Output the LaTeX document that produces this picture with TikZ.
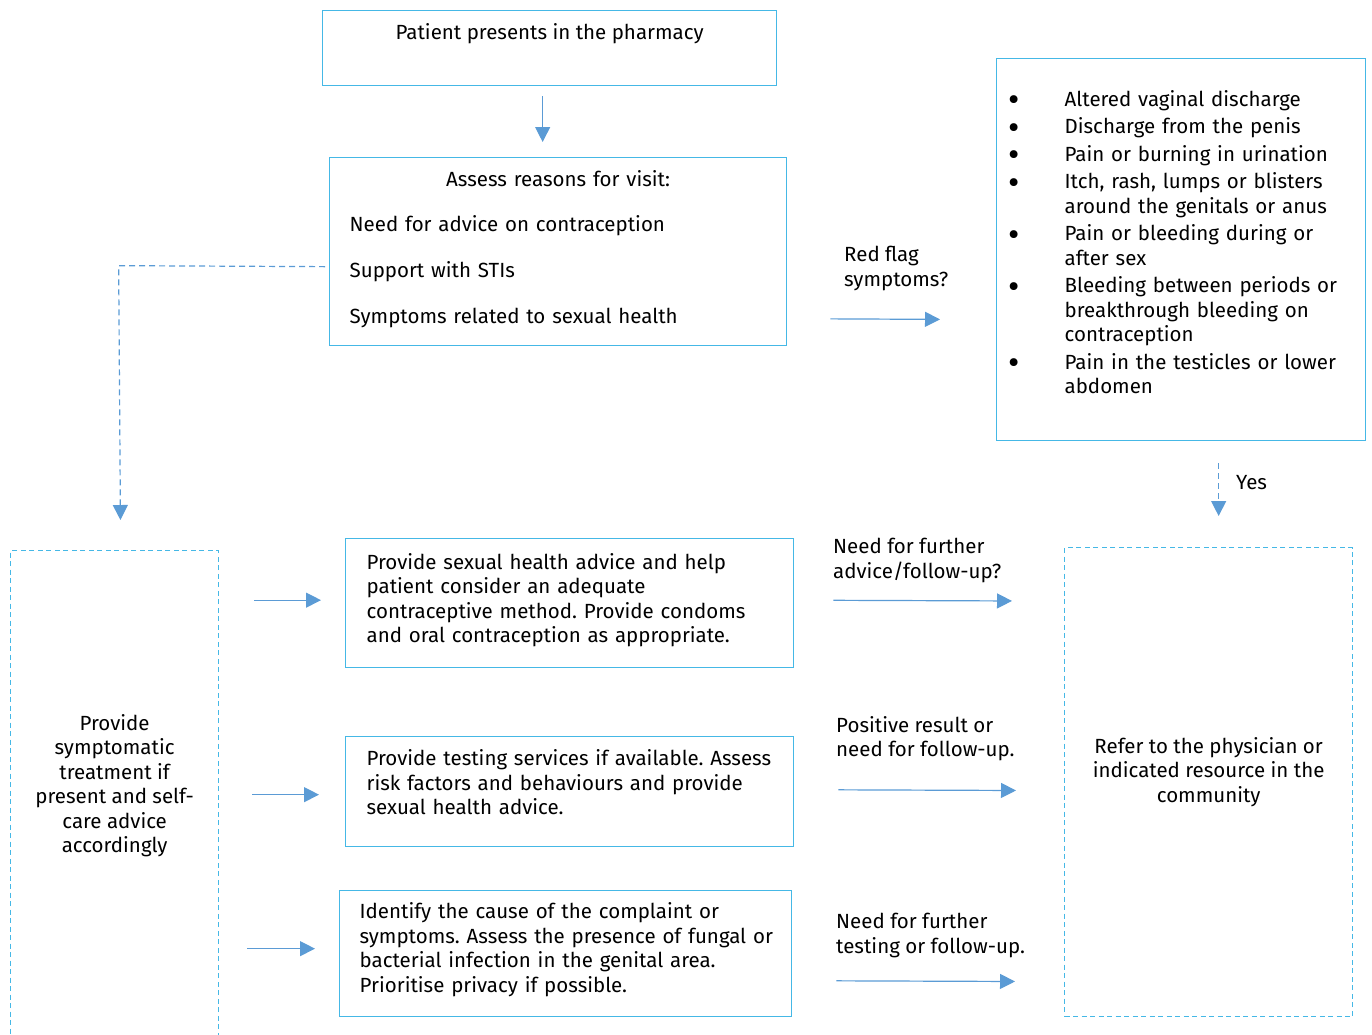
\documentclass[tikz,border=0pt]{standalone}
\usepackage{fontspec}
\setmainfont{Fira Sans}
\usetikzlibrary{arrows.meta,positioning,calc}
\definecolor{boxcyan}{HTML}{45B8E6}
\definecolor{arrblue}{HTML}{5B9BD5}
\newcommand{\bigbul}{\raisebox{-5.5pt}[0pt][0pt]{\scalebox{1.7}{\textbullet}}}
\frenchspacing

\begin{document}
\begin{tikzpicture}[
    x=1pt, y=-1pt,
    font=\fontsize{20.5}{24.5}\selectfont,
    sbox/.style={rectangle, draw=boxcyan, line width=1.3pt, inner sep=0pt, anchor=north west},
    dbox/.style={sbox, dash pattern=on 5pt off 3.5pt},
    lbox/.style={sbox, align=left, inner xsep=21pt, text width=406pt, minimum width=448pt},
    lbl/.style={inner sep=0pt, anchor=north west, align=left},
    arr/.style={-{Triangle[length=15pt, width=15pt]}, line width=1.2pt, draw=arrblue},
    darr/.style={arr, dash pattern=on 6pt off 4pt}
]
    \useasboundingbox (0,0) rectangle (1372,1034);

    % top of the flow
    \node [sbox, minimum width=454pt, minimum height=75pt, align=center] (patient) at (322,10)
        {Patient presents in the pharmacy\\[8pt]\mbox{}};
    \node [sbox, align=left, inner xsep=20pt, text width=417pt, minimum width=457pt, minimum height=188pt] (assess) at (329,157)
        {\makebox[417pt]{Assess reasons for visit:}\\[20.5pt]
         Need for advice on contraception\\[21.5pt]
         Support with STIs\\[21.5pt]
         Symptoms related to sexual health\\[-16pt]\mbox{}};
    \node [sbox, align=left, inner xsep=12pt, text width=345pt, minimum width=369pt, minimum height=382pt] (flags) at (996,58)
        {\begin{tabular}{@{}p{56pt}@{}l@{}}
         \bigbul & Altered vaginal discharge\\[3pt]
         \bigbul & Discharge from the penis\\[3pt]
         \bigbul & Pain or burning in urination\\[3pt]
         \bigbul & Itch, rash, lumps or blisters\\
                 & around the genitals or anus\\[3pt]
         \bigbul & Pain or bleeding during or\\
                 & after sex\\[3pt]
         \bigbul & Bleeding between periods or\\
                 & breakthrough bleeding on\\
                 & contraception\\[3pt]
         \bigbul & Pain in the testicles or lower\\
                 & abdomen
         \end{tabular}\\[8pt]\mbox{}};

    % lower part
    \node [dbox, minimum width=208pt, minimum height=500pt, align=center] (selfcare) at (10,550)
        {Provide\\symptomatic\\treatment if\\present and self-\\care advice\\accordingly\\[10pt]\mbox{}};
    \node [lbox, minimum height=129pt] (advice) at (345,538)
        {Provide sexual health advice and help\\
         patient consider an adequate\\
         contraceptive method. Provide condoms\\
         and oral contraception as appropriate.\\[-14pt]\mbox{}};
    \node [lbox, minimum height=110pt] (testing) at (345,736)
        {Provide testing services if available. Assess\\
         risk factors and behaviours and provide\\
         sexual health advice.\\[-6pt]\mbox{}};
    \node [lbox, inner xsep=20pt, text width=412pt, minimum width=452pt, minimum height=126pt] (cause) at (339,890)
        {Identify the cause of the complaint or\\
         \mbox{symptoms. Assess the presence of fungal or}\\
         bacterial infection in the genital area.\\
         Prioritise privacy if possible.\\[-12pt]\mbox{}};
    \node [dbox, minimum width=288pt, minimum height=469pt, align=center] (refer) at (1064,547)
        {Refer to the physician or\\indicated resource in the\\community\\\mbox{}};

    % labels on the connectors
    \node [lbl] (redflag) at (844,246) {Red flag\\symptoms?};
    \node [lbl] (yes) at (1236,475) {Yes};
    \node [lbl] (further) at (833,538) {Need for further\\advice/follow-up?};
    \node [lbl] (positive) at (836,716) {Positive result or\\need for follow-up.};
    \node [lbl] (testmore) at (836,913) {Need for further\\testing or follow-up.};

    % connectors
    \draw [arr, shorten <=10pt, shorten >=15pt] ([xshift=-7pt]patient.south) -- ([xshift=-7pt]patient.south |- assess.north);
    \draw [arr, shorten <=43pt, shorten >=56pt] ($(assess.east)+(0,67)$) -- ($(assess.east -| flags.west)+(0,68)$);
    \draw [darr, shorten >=30pt] ($(assess.west)+(-4,15)$) -- ($(assess.west -| selfcare.north)+(4,14)$) -- ([xshift=6pt]selfcare.north);
    \draw [darr, shorten <=22pt, shorten >=31pt] ($(flags.south -| refer.north)+(10,0)$) -- ($(refer.north)+(10,0)$);

    \draw [arr, shorten <=35pt, shorten >=24pt] ($(selfcare.east |- advice.west)+(0,-3)$) -- ($(advice.west)+(0,-3)$);
    \draw [arr, shorten <=33pt, shorten >=26pt] ($(selfcare.east |- testing.west)+(0,3)$) -- ($(testing.west)+(0,3)$);
    \draw [arr, shorten <=28pt, shorten >=24pt] ($(selfcare.east |- cause.west)+(0,-5)$) -- ($(cause.west)+(0,-5)$);

    \draw [arr, shorten <=39pt, shorten >=52pt] ($(advice.east)+(0,-3)$) -- ($(advice.east -| refer.west)+(0,-2)$);
    \draw [arr, shorten <=44pt, shorten >=48pt] ($(testing.east)+(0,-2)$) -- ($(testing.east -| refer.west)+(0,-1)$);
    \draw [arr, shorten <=44pt, shorten >=49pt] ($(cause.east)+(0,27)$) -- ($(cause.east -| refer.west)+(0,28)$);
\end{tikzpicture}
\end{document}
